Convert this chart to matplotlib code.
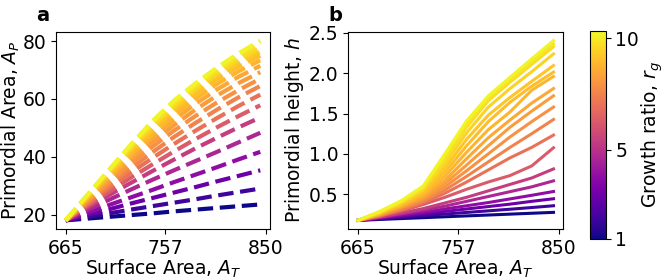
import matplotlib
matplotlib.use("Agg")
import matplotlib.pyplot as plt
from matplotlib import cm, colors

plt.rcParams['font.family'] = 'DejaVu Sans'
plt.rcParams['font.size'] = 13.5

# surface area samples (shared by both panels)
surface_area = [665, 685, 705, 725, 745, 765, 785, 805, 825, 845]

# growth ratio of each curve
growth_ratio = [1.0, 1.9, 2.9, 3.8, 4.6, 5.4, 6.3, 7.0, 7.5, 7.9,
                8.2, 8.5, 8.8, 9.0, 9.2, 9.5, 9.7, 9.9, 10.2]

# panel a: primordial area, one row per growth ratio
prim_area = [
    [18, 18.6, 19.2, 19.8, 20.4, 21.1, 21.7, 22.3, 22.9, 23.5],
    [18, 19.2, 20.4, 21.7, 22.9, 24.1, 25.3, 26.6, 27.8, 29.0],
    [18, 19.9, 21.8, 23.8, 25.7, 27.6, 29.5, 31.5, 33.4, 35.3],
    [18, 20.6, 23.3, 25.9, 28.5, 31.2, 33.8, 36.4, 39.1, 41.7],
    [18, 21.6, 25.1, 28.6, 32.0, 35.3, 38.5, 41.7, 45.0, 48.3],
    [18, 22.4, 26.7, 30.9, 35.0, 39.0, 42.9, 46.6, 50.2, 53.6],
    [18, 23.0, 27.9, 32.7, 37.3, 41.8, 46.1, 50.2, 54.1, 57.8],
    [18, 23.6, 29.1, 34.4, 39.5, 44.4, 49.0, 53.4, 57.6, 61.5],
    [18, 24.1, 30.1, 35.9, 41.5, 46.8, 51.7, 56.3, 60.6, 64.5],
    [18, 24.6, 31.1, 37.4, 43.4, 49.0, 54.1, 58.8, 63.1, 67.0],
    [18, 25.0, 31.9, 38.6, 45.0, 50.9, 56.3, 61.2, 65.5, 69.3],
    [18, 25.4, 32.7, 39.8, 46.5, 52.7, 58.3, 63.3, 67.7, 71.5],
    [18, 25.7, 33.3, 40.7, 47.7, 54.2, 60.0, 65.2, 69.6, 73.4],
    [18, 26.0, 33.9, 41.6, 48.9, 55.6, 61.6, 66.8, 71.2, 75.0],
    [18, 26.2, 34.3, 42.2, 49.7, 56.6, 62.6, 67.8, 72.4, 76.4],
    [18, 26.4, 34.7, 42.8, 50.5, 57.4, 63.4, 68.7, 73.4, 77.6],
    [18, 26.6, 35.1, 43.4, 51.2, 58.1, 64.1, 69.5, 74.3, 78.6],
    [18, 26.7, 35.3, 43.8, 51.8, 58.8, 64.8, 70.3, 75.1, 79.5],
    [18, 26.8, 35.5, 44.1, 52.3, 59.4, 65.4, 70.9, 75.8, 80.2],
]

# panel b: primordial height, one row per growth ratio
prim_height = [
    [0.174, 0.185, 0.196, 0.207, 0.218, 0.229, 0.240, 0.251, 0.262, 0.273],
    [0.174, 0.193, 0.212, 0.232, 0.252, 0.272, 0.292, 0.312, 0.333, 0.355],
    [0.174, 0.200, 0.225, 0.255, 0.285, 0.315, 0.345, 0.375, 0.410, 0.442],
    [0.174, 0.205, 0.240, 0.275, 0.315, 0.355, 0.395, 0.440, 0.485, 0.532],
    [0.174, 0.210, 0.255, 0.300, 0.350, 0.410, 0.470, 0.530, 0.590, 0.664],
    [0.174, 0.215, 0.265, 0.320, 0.390, 0.460, 0.540, 0.620, 0.700, 0.812],
    [0.174, 0.225, 0.290, 0.370, 0.460, 0.560, 0.650, 0.730, 0.850, 1.075],
    [0.174, 0.230, 0.300, 0.390, 0.510, 0.650, 0.800, 0.950, 1.080, 1.232],
    [0.174, 0.235, 0.315, 0.410, 0.550, 0.720, 0.900, 1.080, 1.250, 1.426],
    [0.174, 0.240, 0.330, 0.430, 0.590, 0.790, 1.000, 1.210, 1.400, 1.580],
    [0.174, 0.245, 0.340, 0.450, 0.630, 0.860, 1.100, 1.330, 1.530, 1.720],
    [0.174, 0.250, 0.350, 0.470, 0.670, 0.940, 1.200, 1.420, 1.630, 1.810],
    [0.174, 0.255, 0.360, 0.490, 0.720, 1.020, 1.300, 1.520, 1.790, 1.960],
    [0.174, 0.260, 0.370, 0.510, 0.770, 1.100, 1.400, 1.640, 1.840, 2.014],
    [0.174, 0.265, 0.380, 0.530, 0.820, 1.180, 1.480, 1.700, 1.900, 2.096],
    [0.174, 0.270, 0.390, 0.550, 0.870, 1.260, 1.580, 1.810, 2.020, 2.240],
    [0.174, 0.275, 0.400, 0.570, 0.920, 1.330, 1.660, 1.890, 2.110, 2.330],
    [0.174, 0.280, 0.410, 0.585, 0.960, 1.370, 1.690, 1.920, 2.140, 2.364],
    [0.174, 0.285, 0.420, 0.600, 1.000, 1.410, 1.720, 1.950, 2.180, 2.405],
]

xticks = [665, 757, 850]
xtick_labels = ['665', '757', '850']

norm = colors.Normalize(vmin=1, vmax=10.33)
cmap = plt.get_cmap('plasma')

fig = plt.figure(figsize=(6.64, 2.8), dpi=100)
ax_a = fig.add_axes([0.0843, 0.181, 0.3223, 0.706])
ax_b = fig.add_axes([0.5245, 0.181, 0.3238, 0.706])
cax = fig.add_axes([0.8880, 0.1475, 0.0241, 0.742])

# 左图: 虚线
for r, ys in zip(growth_ratio, prim_area):
    ax_a.plot(surface_area, ys, '--', color=cmap(norm(r)), lw=3)
ax_a.set_yticks([20, 40, 60, 80])
ax_a.set_ylabel('Primordial Area, $A_P$', labelpad=0)

# 右图: 实线
for r, ys in zip(growth_ratio, prim_height):
    ax_b.plot(surface_area, ys, '-', color=cmap(norm(r)), lw=2.2)
ax_b.set_yticks([0.5, 1.0, 1.5, 2.0, 2.5])
ax_b.set_ylabel('Primordial height, $h$', labelpad=2)

for ax in (ax_a, ax_b):
    ax.set_xticks(xticks)
    ax.set_xticklabels(xtick_labels)
    ax.set_xlabel('Surface Area, $A_T$', labelpad=0)

sm = cm.ScalarMappable(norm=norm, cmap=cmap)
cb = fig.colorbar(sm, cax=cax, ticks=[1, 5, 10])
cb.set_label('Growth ratio, $r_g$', labelpad=0)

fig.text(0.054, 0.925, 'a', fontsize=14, fontweight='bold')
fig.text(0.495, 0.925, 'b', fontsize=14, fontweight='bold')

fig.savefig('out.png', dpi=100)
